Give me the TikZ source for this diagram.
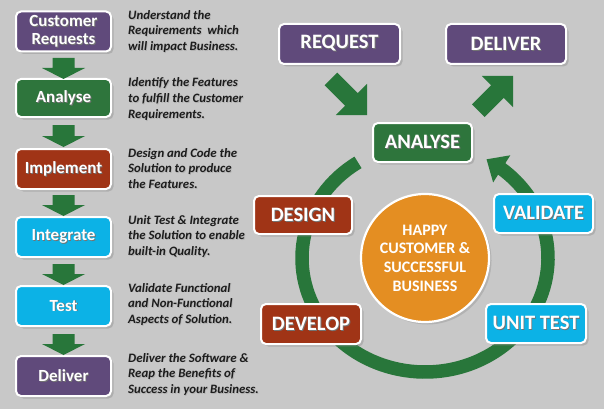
\documentclass[tikz,border=0pt]{standalone}
\usepackage{fontspec}
\setmainfont{Carlito}
\usetikzlibrary{shadows,arrows.meta,bending}

\definecolor{bggrey}{RGB}{200,200,200}
\definecolor{boxpurple}{RGB}{96,74,123}
\definecolor{boxgreen}{RGB}{46,117,60}
\definecolor{boxrust}{RGB}{160,52,22}
\definecolor{boxcyan}{RGB}{12,178,230}
\definecolor{hubor}{RGB}{228,142,34}
\definecolor{flowgreen}{RGB}{40,118,58}
\definecolor{notetext}{RGB}{28,28,28}

% text with a small dark drop shadow behind it
\newcommand{\shtext}[1]{\rlap{\kern0.9pt\raisebox{-0.9pt}{\color{black!55}#1}}#1}
\newcommand{\shnote}[1]{\rlap{\kern0.8pt\raisebox{-0.8pt}{\color{black!30}#1}}#1}

% block arrow: tip x, tip y, rotation, length, head length, head half width, shaft half width
\newcommand{\blockarr}[7]{%
  \fill[flowgreen, shift={(#1,#2)}, rotate=#3]
    (0,0) -- (-#5,#6) -- (-#5,#7) -- (-#4,#7) -- (-#4,-#7) -- (-#5,-#7) -- (-#5,-#6) -- cycle;}

\tikzset{
  stagebox/.style={draw=white, line width=2pt, rounded corners=5pt, text=white,
    align=center, inner sep=0pt,
    drop shadow={shadow xshift=2.5pt, shadow yshift=-2.5pt, opacity=0.35}},
  leftbox/.style={stagebox, font=\fontsize{17}{18}\selectfont\bfseries,
    minimum width=95pt, minimum height=40pt},
  cyclebox/.style={stagebox, font=\fontsize{20.5}{22}\selectfont\bfseries},
  note/.style={anchor=base west, inner sep=0pt, align=left, text=notetext,
    font=\fontsize{12.8}{15.7}\selectfont\bfseries\itshape},
}

\begin{document}
\begin{tikzpicture}[x=1pt, y=-1pt]
  \useasboundingbox (0,0) rectangle (604,409);
  \fill[bggrey] (0,0) rectangle (604,409);

  % ---- left column: process steps ----
  \node[leftbox, fill=boxpurple] (lcust) at (63.5,31.5) {\shtext{Customer}\\\shtext{Requests}};
  \node[leftbox, fill=boxgreen, minimum height=38pt] (lanal) at (63.5,98) {\shtext{Analyse}};
  \node[leftbox, fill=boxrust] (limpl) at (63.5,169) {\shtext{Implement}};
  \node[leftbox, fill=boxcyan] (linteg) at (63.5,237) {\shtext{Integrate}};
  \node[leftbox, fill=boxcyan] (ltest) at (63.5,306) {\shtext{Test}};
  \node[leftbox, fill=boxpurple] (ldeliv) at (63.5,376) {\shtext{Deliver}};

  \blockarr{63.5}{79}{-90}{21}{11}{21.5}{11}
  \blockarr{63.5}{147}{-90}{22}{11}{21.5}{11}
  \blockarr{63.5}{216}{-90}{21}{11}{21.5}{11}
  \blockarr{63.5}{285}{-90}{21}{11}{21.5}{11}
  \blockarr{63.5}{355}{-90}{21}{11}{21.5}{11}

  % descriptions, anchored on the baseline of their last line
  \node[note] (n1) at (128,50.7) {\shnote{Understand the}\\\shnote{Requirements\ \ which}\\\shnote{will impact Business.}};
  \node[note] (n2) at (128,118.4) {\shnote{Identify the Features}\\\shnote{to fulfill the Customer}\\\shnote{Requirements.}};
  \node[note] (n3) at (128,188.4) {\shnote{Design and Code the}\\\shnote{Solution to produce}\\\shnote{the Features.}};
  \node[note] (n4) at (128,255.4) {\shnote{Unit Test \& Integrate}\\\shnote{the Solution to enable}\\\shnote{built-in Quality.}};
  \node[note] (n5) at (128,323.4) {\shnote{Validate Functional}\\\shnote{and Non-Functional}\\\shnote{Aspects of Solution.}};
  \node[note] (n6) at (128,393.4) {\shnote{Deliver\ the Software \&}\\\shnote{Reap the Benefits\ of}\\\shnote{Success\ in your Business.}};

  % ---- right side: the development cycle ----
  \coordinate (ringc) at (425,258);
  \draw[flowgreen, line width=13.5pt, -{Triangle[width=31pt,length=18pt]}]
    ([shift={(237:123 and 114)}]ringc) arc[start angle=237, end angle=-60, x radius=123, y radius=114];

  \blockarr{367}{115}{-45}{51}{22}{22}{9}
  \blockarr{513}{76}{45}{49}{22}{22}{9}

  \node[cyclebox, fill=boxpurple, minimum width=121pt, minimum height=40pt] (request) at (339.5,44) {\shtext{REQUEST}};
  \node[cyclebox, fill=boxpurple, minimum width=120pt, minimum height=40pt] (deliver) at (506,44) {\shtext{DELIVER}};
  \node[cyclebox, fill=boxgreen, minimum width=99pt, minimum height=39pt] (analyse) at (422.5,142.5) {\shtext{ANALYSE}};
  \node[cyclebox, fill=boxrust, minimum width=98pt, minimum height=38pt] (design) at (303,215) {\shtext{DESIGN}};
  \node[cyclebox, fill=boxcyan, minimum width=99pt, minimum height=39pt] (validate) at (543.5,213.5) {\shtext{VALIDATE}};
  \node[cyclebox, fill=boxrust, minimum width=100pt, minimum height=40pt] (develop) at (311,324) {\shtext{DEVELOP}};
  \node[cyclebox, fill=boxcyan, minimum width=100pt, minimum height=39pt] (unittest) at (536,323.5) {\shtext{UNIT TEST}};

  \node[circle, fill=hubor, draw=white, line width=2.2pt, minimum size=128pt, inner sep=0pt,
        text=white, align=center, font=\fontsize{16}{18.7}\selectfont\bfseries,
        drop shadow={shadow xshift=2.5pt, shadow yshift=-2.5pt, opacity=0.3}]
    (hub) at (ringc) {HAPPY\\CUSTOMER \&\\SUCCESSFUL\\BUSINESS};
\end{tikzpicture}
\end{document}
